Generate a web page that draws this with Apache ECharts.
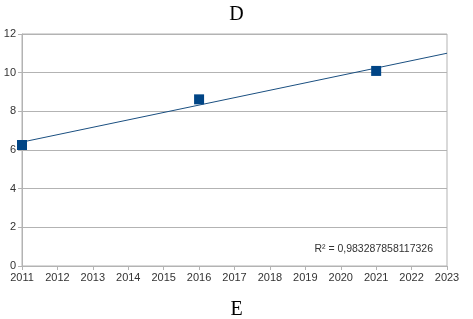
<!DOCTYPE html>
<html>
<head>
<meta charset="utf-8">
<script src="https://cdn.jsdelivr.net/npm/echarts@6/dist/echarts.min.js"></script>
<style>
  html, body { margin: 0; padding: 0; background: #fff; }
  #chart { width: 473px; height: 319px; }
</style>
</head>
<body>
<div id="chart"></div>
<script>
// measured points
var years = [2011, 2016, 2021];
var values = [6.26, 8.62, 10.09];
var trendRange = [2011, 2023];
var rSquaredText = 'R² = 0,983287858117326';

// least squares line through the points
function fitLine(xs, ys) {
  var n = xs.length
  var mx = xs.reduce((p, c) => p + c, 0) / n
  var my = ys.reduce((p, c) => p + c, 0) / n
  var sxy = 0, sxx = 0
  for (var i = 0; i < n; i++) {
    sxy += (xs[i] - mx) * (ys[i] - my)
    sxx += (xs[i] - mx) * (xs[i] - mx)
  }
  var k = sxy / sxx
  return x => my + k * (x - mx)
}

var f = fitLine(years, values)
var trendData = trendRange.map(x => [x, f(x)])

var myChart = echarts.init(document.getElementById('chart'))
var labelStyle = { fontFamily: 'Liberation Sans', fontSize: 11, color: '#333' }

myChart.setOption({
  animation: false,
  title: [
    {
      text: 'D', left: 'center', top: 0,
      textStyle: { fontFamily: 'Liberation Serif', fontSize: 20, fontWeight: 'normal', color: '#000' }
    },
    {
      text: 'E', left: 'center', top: 295,
      textStyle: { fontFamily: 'Liberation Serif', fontSize: 20, fontWeight: 'normal', color: '#000' }
    }
  ],
  grid: {
    left: 22, right: 26, top: 34, bottom: 53,
    show: true, borderColor: '#b3b3b3', borderWidth: 1
  },
  xAxis: {
    type: 'value', min: 2011, max: 2023, interval: 1,
    axisLine: { lineStyle: { color: '#b3b3b3' } },
    axisTick: { show: true, length: 4, lineStyle: { color: '#b3b3b3' } },
    splitLine: { show: false },
    axisLabel: Object.assign({ formatter: v => String(v), margin: 6 }, labelStyle)
  },
  yAxis: {
    type: 'value', min: 0, max: 12, interval: 2,
    axisLine: { show: true, lineStyle: { color: '#b3b3b3' } },
    axisTick: { show: true, length: 4, lineStyle: { color: '#b3b3b3' } },
    splitLine: { lineStyle: { color: '#b3b3b3' } },
    axisLabel: Object.assign({ margin: 6 }, labelStyle)
  },
  graphic: [
    {
      type: 'text', right: 40, top: 244,
      style: { text: rSquaredText, font: '10.5px "Liberation Sans"', fill: '#333' }
    }
  ],
  series: [
    {
      type: 'line',
      data: trendData,
      symbol: 'none',
      lineStyle: { color: '#1a4f80', width: 1 },
      z: 2
    },
    {
      type: 'scatter',
      data: years.map((y, i) => [y, values[i]]),
      symbol: 'rect',
      symbolSize: 10,
      itemStyle: { color: '#004586', opacity: 1 },
      z: 3
    }
  ]
})
</script>
</body>
</html>
